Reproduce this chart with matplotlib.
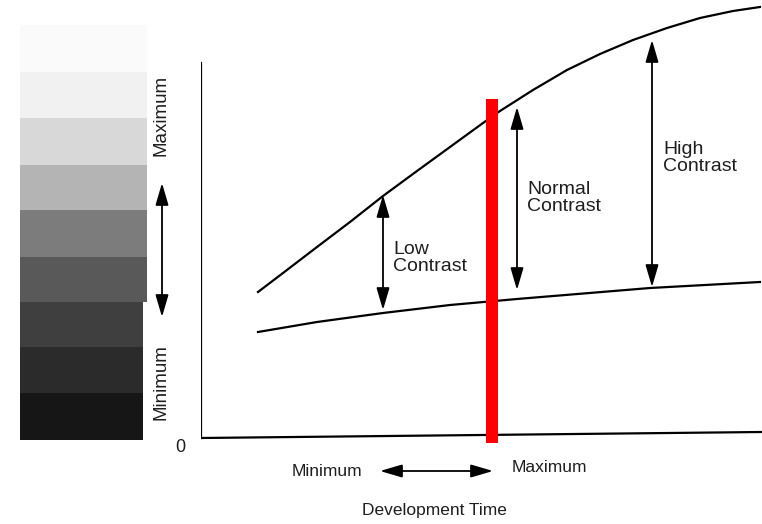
import matplotlib.pyplot as plt

plt.rcParams['font.family'] = ['Liberation Sans', 'DejaVu Sans']

# grey step wedge, top (lightest) to bottom (darkest)
step_grey = ['#fafafa', '#f1f1f1', '#d8d8d8', '#b4b4b4', '#7c7c7c',
             '#595959', '#3f3f3f', '#2b2b2b', '#161616']
step_edges = [25, 72, 118, 165, 210, 257, 302, 347, 393, 440]  # pixel rows

# characteristic curves (development time vs density)
upper_x = [57, 82, 116, 149, 182, 216, 249, 282, 299, 332, 366, 399, 432,
           466, 499, 532, 559]
upper_y = [146, 165, 191, 216, 242, 267, 291, 315, 327, 348, 368, 384, 398,
           410, 420, 427, 431]
lower_x = [57, 116, 182, 249, 316, 449, 559]
lower_y = [106, 116, 125, 133, 139, 150, 156]

# contrast arrows: x, bottom, top, label, label x, label y
contrast = [
    (182, 128, 243, 'Low\nContrast', 192, 180),
    (316, 148, 331, 'Normal\nContrast', 326, 240),
    (451, 151, 398, 'High\nContrast', 462, 280),
]
marker_x = 291
marker_top = 339

arrow = dict(arrowstyle='<|-|>,head_length=0.75,head_width=0.22',
             color='black', lw=1.3, mutation_scale=18, shrinkA=0, shrinkB=0)
txt = '#1e1e1e'

fig = plt.figure(figsize=(7.62, 5.24), dpi=100)

# step wedge on the left
ax_s = fig.add_axes([0, 0, 1, 1])
ax_s.set_xlim(0, 762)
ax_s.set_ylim(524, 0)
ax_s.axis('off')
for i, c in enumerate(step_grey):
    w = 127 if i < 6 else 123
    ax_s.bar(20, step_edges[i + 1] - step_edges[i], bottom=step_edges[i],
             width=w, align='edge', color=c, edgecolor='none')

ax = fig.add_axes([201 / 762, 0, 561 / 762, 1])
ax.patch.set_alpha(0)
ax.set_xlim(0, 561)
ax.set_ylim(-86, 438)
for s in ax.spines.values():
    s.set_visible(False)
ax.set_xticks([])
ax.set_yticks([])

# axes lines
ax.plot([0, 0], [0, 375], color='black', lw=1.6)
ax.plot([0, 561], [0, 6], color='black', lw=1.6)

ax.plot(upper_x, upper_y, color='black', lw=1.6)
ax.plot(lower_x, lower_y, color='black', lw=1.6)

for x, y0, y1, label, tx, ty in contrast:
    ax.annotate('', xy=(x, y1), xytext=(x, y0), arrowprops=arrow)
    ax.text(tx, ty, label, fontsize=14, ha='left', va='center',
            linespacing=1.0, color=txt)

ax.bar(marker_x, marker_top + 5, bottom=-5, width=12, color='#ff0000',
       edgecolor='none', zorder=5)

# axis annotations
ax.text(-21, -9, '0', fontsize=13, ha='center', va='center', color=txt)
ax.text(-40, 323, 'Maximum', fontsize=13.5, rotation=90, ha='center',
        va='center', color=txt, clip_on=False)
ax.text(-40, 56, 'Minimum', fontsize=13.5, rotation=90, ha='center',
        va='center', color=txt, clip_on=False)
ax.annotate('', xy=(-39, 255), xytext=(-39, 121), annotation_clip=False,
            arrowprops=arrow)

ax.text(126, -34, 'Minimum', fontsize=12.5, ha='center', va='center',
        color=txt)
ax.text(348, -30, 'Maximum', fontsize=12.5, ha='center', va='center',
        color=txt)
ax.annotate('', xy=(292, -33), xytext=(179, -33), arrowprops=arrow)
ax.text(233, -72, 'Development Time', fontsize=12.5, ha='center',
        va='center', color=txt)

fig.savefig('out.png', dpi=100, facecolor='white')
